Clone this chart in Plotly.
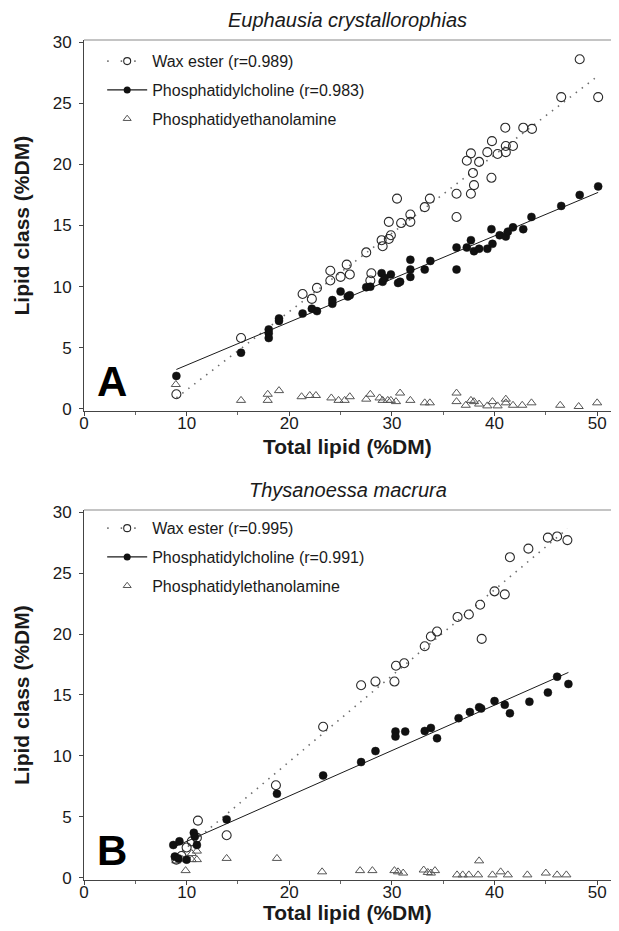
import numpy as np
import plotly.graph_objects as go

# ---------------- Panel A: Euphausia crystallorophias ----------------
a_we_x = [9.0, 15.3, 21.3, 22.2, 22.7, 24.0, 24.0, 25.0, 25.6, 25.9, 27.5, 28.0, 27.9, 29.0, 29.1, 29.7,
          29.9, 29.7, 30.9, 30.5, 31.8, 31.8, 33.2, 33.7, 36.3, 36.3, 37.7, 38.0, 37.9, 37.3, 37.7, 38.5,
          39.7, 39.3, 39.75, 40.3, 41.1, 41.1, 41.8, 41.05, 42.8, 43.65, 46.5, 48.3, 50.1]
a_we_y = [1.2, 5.8, 9.4, 9.0, 9.9, 11.3, 10.5, 10.8, 11.8, 11.0, 12.8, 11.1, 10.5, 13.8, 13.3, 13.9,
          14.2, 15.3, 15.2, 17.2, 15.9, 15.3, 16.5, 17.2, 15.7, 17.6, 17.6, 18.3, 19.3, 20.3, 20.9, 20.2,
          18.9, 21.0, 21.9, 20.85, 21.0, 21.5, 21.5, 23.0, 23.0, 22.9, 25.5, 28.6, 25.5]

a_pc_x = [9.0, 15.3, 18.0, 18.0, 18.0, 19.0, 19.0, 21.3, 22.2, 22.7, 24.2, 24.2, 25.0, 25.7, 25.9, 27.5,
          27.9, 29.0, 29.1, 29.3, 29.9, 30.6, 30.8, 31.8, 31.8, 31.8, 33.2, 33.75, 36.3, 36.3, 37.3, 37.7,
          38.0, 38.5, 39.3, 39.8, 39.7, 40.5, 41.1, 41.3, 41.8, 42.8, 43.6, 46.5, 48.3, 50.1]
a_pc_y = [2.7, 4.6, 6.5, 6.2, 5.8, 7.4, 7.2, 7.8, 8.2, 8.0, 8.6, 8.9, 9.6, 9.2, 9.3, 9.95,
          10.0, 11.1, 10.4, 10.7, 11.0, 10.3, 10.4, 12.2, 11.4, 10.8, 11.4, 12.1, 11.4, 13.2, 13.2, 13.8,
          12.9, 13.1, 13.1, 13.5, 14.7, 14.2, 14.1, 14.5, 14.85, 14.7, 15.7, 16.6, 17.5, 18.2]

a_pe_x = [8.95, 15.3, 17.9, 17.9, 19.0, 21.2, 22.0, 22.6, 24.1, 24.8, 25.4, 25.9, 27.5, 27.9, 28.8, 29.1,
          29.6, 29.9, 30.4, 30.8, 31.8, 33.2, 33.7, 36.3, 36.3, 37.2, 37.7, 38.0, 38.5, 39.3, 39.8, 40.3,
          41.1, 41.1, 41.8, 42.7, 43.6, 46.4, 48.2, 50.0]
a_pe_y = [2.0, 0.7, 1.2, 0.7, 1.5, 1.0, 1.1, 1.1, 0.9, 0.7, 0.7, 1.0, 0.8, 1.2, 0.9, 0.7,
          0.7, 0.7, 0.6, 1.3, 0.7, 0.5, 0.5, 1.3, 0.6, 0.3, 0.7, 0.6, 0.4, 0.25, 0.6, 0.25,
          0.8, 0.5, 0.3, 0.3, 0.5, 0.3, 0.2, 0.5]

# ---------------- Panel B: Thysanoessa macrura ----------------
b_we_x = [9.0, 9.5, 10.0, 10.5, 11.0, 11.1, 13.9, 18.7, 23.3, 27.0, 28.4, 30.25, 30.4, 31.2, 33.2, 33.8,
          34.4, 36.4, 37.5, 38.6, 38.75, 40.0, 41.0, 41.5, 43.3, 45.2, 46.1, 47.1]
b_we_y = [1.5, 1.8, 2.5, 3.0, 3.3, 4.7, 3.5, 7.6, 12.4, 15.8, 16.1, 16.1, 17.4, 17.6, 19.0, 19.8,
          20.2, 21.4, 21.6, 22.4, 19.6, 23.5, 23.25, 26.3, 27.0, 27.9, 28.0, 27.7]

b_pc_x = [8.7, 8.85, 9.2, 9.3, 10.0, 10.7, 10.8, 11.0, 13.9, 18.8, 23.3, 27.0, 28.4, 30.35, 30.35, 31.3,
          33.2, 33.8, 34.4, 36.5, 37.6, 38.5, 38.7, 40.0, 41.0, 41.5, 43.4, 45.2, 46.1, 47.2]
b_pc_y = [2.7, 1.75, 1.6, 3.0, 1.5, 3.7, 3.4, 2.7, 4.8, 6.9, 8.4, 9.5, 10.4, 12.0, 11.6, 12.0,
          12.05, 12.3, 11.45, 13.1, 13.6, 14.0, 13.9, 14.5, 14.2, 13.5, 14.45, 15.2, 16.5, 15.9]

b_pe_x = [9.0, 9.6, 9.9, 10.5, 10.5, 11.0, 11.0, 13.9, 18.8, 23.2, 26.9, 28.1, 30.25, 30.6, 31.1, 33.1,
          33.5, 33.8, 34.2, 36.35, 36.9, 37.5, 38.4, 38.5, 39.8, 40.6, 41.3, 43.2, 45.0, 46.1, 47.0]
b_pe_y = [1.4, 1.5, 0.6, 1.5, 2.0, 1.5, 2.2, 1.6, 1.6, 0.5, 0.6, 0.6, 0.6, 0.5, 0.4, 0.65,
          0.45, 0.4, 0.6, 0.25, 0.25, 0.25, 0.25, 1.4, 0.25, 0.5, 0.25, 0.25, 0.4, 0.25, 0.25]

titles = ["Euphausia crystallorophias", "Thysanoessa macrura"]
panel_letters = ["A", "B"]
legend_a = ["Wax ester (r=0.989)", "Phosphatidylcholine (r=0.983)", "Phosphatidyethanolamine"]
legend_b = ["Wax ester (r=0.995)", "Phosphatidylcholine (r=0.991)", "Phosphatidylethanolamine"]
x_ticks = [0, 10, 20, 30, 40, 50]
y_ticks = [0, 5, 10, 15, 20, 25, 30]
x_title = "Total lipid (%DM)"
y_title = "Lipid class (%DM)"

FONT = "Liberation Sans, Arial, Helvetica, sans-serif"
INK = "#1a1a1a"
GREY_LINE = "#8a8a8a"

fig = go.Figure()


def fit_line(x, y):
    k, b = np.polyfit(np.array(x), np.array(y), 1)
    xs = np.array([min(x), max(x)])
    return xs, k * xs + b


panels = [
    dict(xa="x", ya="y", leg="legend", we=(a_we_x, a_we_y), pc=(a_pc_x, a_pc_y), pe=(a_pe_x, a_pe_y),
         names=legend_a),
    dict(xa="x2", ya="y2", leg="legend2", we=(b_we_x, b_we_y), pc=(b_pc_x, b_pc_y), pe=(b_pe_x, b_pe_y),
         names=legend_b),
]

for p in panels:
    xa, ya = p["xa"], p["ya"]
    # regression lines
    lx, ly = fit_line(*p["we"])
    fig.add_trace(go.Scatter(x=lx, y=ly, mode="lines", xaxis=xa, yaxis=ya, showlegend=False,
                             line=dict(color="#6e6e6e", width=1.6, dash="1.5px,6px")))
    lx, ly = fit_line(*p["pc"])
    fig.add_trace(go.Scatter(x=lx, y=ly, mode="lines", xaxis=xa, yaxis=ya, showlegend=False,
                             line=dict(color=INK, width=1)))
    # points
    fig.add_trace(go.Scatter(x=p["pe"][0], y=p["pe"][1], mode="markers", xaxis=xa, yaxis=ya, showlegend=False,
                             marker=dict(symbol="triangle-up-open", size=8, color="#555555",
                                         line=dict(width=1, color="#555555"))))
    fig.add_trace(go.Scatter(x=p["we"][0], y=p["we"][1], mode="markers", xaxis=xa, yaxis=ya, showlegend=False,
                             marker=dict(symbol="circle-open", size=9, color="#2a2a2a",
                                         line=dict(width=1.1, color="#2a2a2a"))))
    fig.add_trace(go.Scatter(x=p["pc"][0], y=p["pc"][1], mode="markers", xaxis=xa, yaxis=ya, showlegend=False,
                             marker=dict(symbol="circle", size=8, color="#111111",
                                         line=dict(width=0.5, color="#111111"))))
    # legend entries
    n = p["names"]
    fig.add_trace(go.Scatter(x=[None], y=[None], xaxis=xa, yaxis=ya, mode="lines+markers", name=n[0],
                             legend=p["leg"], legendgroup=p["leg"] + "we",
                             line=dict(color="#6e6e6e", width=1.6, dash="1.5px,12px"),
                             marker=dict(symbol="circle-open", size=7, color="#2a2a2a",
                                         line=dict(width=1.1, color="#2a2a2a"))))
    fig.add_trace(go.Scatter(x=[None], y=[None], xaxis=xa, yaxis=ya, mode="lines+markers", name=n[1],
                             legend=p["leg"], legendgroup=p["leg"] + "pc",
                             line=dict(color=INK, width=1.2),
                             marker=dict(symbol="circle", size=7, color="#111111")))
    fig.add_trace(go.Scatter(x=[None], y=[None], xaxis=xa, yaxis=ya, mode="markers", name=n[2],
                             legend=p["leg"], legendgroup=p["leg"] + "pe",
                             marker=dict(symbol="triangle-up-open", size=7, color="#555555",
                                         line=dict(width=1, color="#555555"))))

axis_common = dict(showline=True, linecolor="#444444", linewidth=1, ticks="outside", ticklen=4,
                   tickcolor="#444444", showgrid=False, zeroline=False, automargin=False,
                   tickfont=dict(family=FONT, size=17, color=INK))
xcommon = dict(axis_common, range=[0, 51.35], tickvals=x_ticks, ticklabelstandoff=-7,
               minor=dict(ticks="outside", ticklen=3, dtick=5, tickcolor="#666666"))
ycommon = dict(axis_common, range=[-0.17, 30.17], tickvals=y_ticks, ticklabelstandoff=4)

legend_common = dict(font=dict(family=FONT, size=16, color=INK), bgcolor="rgba(0,0,0,0)",
                     tracegroupgap=5, itemwidth=40, xanchor="left", yanchor="top", traceorder="grouped")

# page is drawn with an 8px body offset, so the figure is 8px smaller on each axis
fig.update_layout(
    width=611, height=923,
    margin=dict(l=76, r=8, t=32, b=51),
    paper_bgcolor="white", plot_bgcolor="white",
    font=dict(family=FONT, color=INK),
    xaxis=dict(xcommon, domain=[0, 1], anchor="y"),
    yaxis=dict(ycommon, domain=[0.5583, 1], anchor="x"),
    xaxis2=dict(xcommon, domain=[0, 1], anchor="y2"),
    yaxis2=dict(ycommon, domain=[0, 0.4405], anchor="x2"),
    legend=dict(legend_common, x=0.0345, y=0.995),
    legend2=dict(legend_common, x=0.0345, y=0.439),
)

refs = [("x domain", "y domain"), ("x2 domain", "y2 domain")]
xt_shift = [-35, -32]

for i, (xr, yr) in enumerate(refs):
    # top frame line
    fig.add_shape(type="line", xref=xr, yref=yr, x0=0, x1=1, y0=1, y1=1,
                  line=dict(color=GREY_LINE, width=1.2))
    # panel title
    fig.add_annotation(text="<i>" + titles[i] + "</i>", xref=xr, yref=yr, x=0.5, y=1.0, yanchor="bottom",
                       yshift=7, showarrow=False, font=dict(family=FONT, size=20, color=INK))
    # panel letter
    fig.add_annotation(text="<b>" + panel_letters[i] + "</b>", xref=xr, yref=yr, x=0.02, y=0.01,
                       xanchor="left", yanchor="bottom", showarrow=False,
                       font=dict(family=FONT, size=42, color="#000000"))
    # axis titles
    fig.add_annotation(text="<b>" + x_title + "</b>", xref=xr, yref=yr, x=0.5, y=0, yanchor="middle",
                       yshift=xt_shift[i], showarrow=False, font=dict(family=FONT, size=21, color=INK))
    fig.add_annotation(text="<b>" + y_title + "</b>", xref=xr, yref=yr, x=0, y=0.5, xanchor="center",
                       yanchor="middle", xshift=-62, textangle=-90, showarrow=False,
                       font=dict(family=FONT, size=21, color=INK))

fig.write_html("out.html")
